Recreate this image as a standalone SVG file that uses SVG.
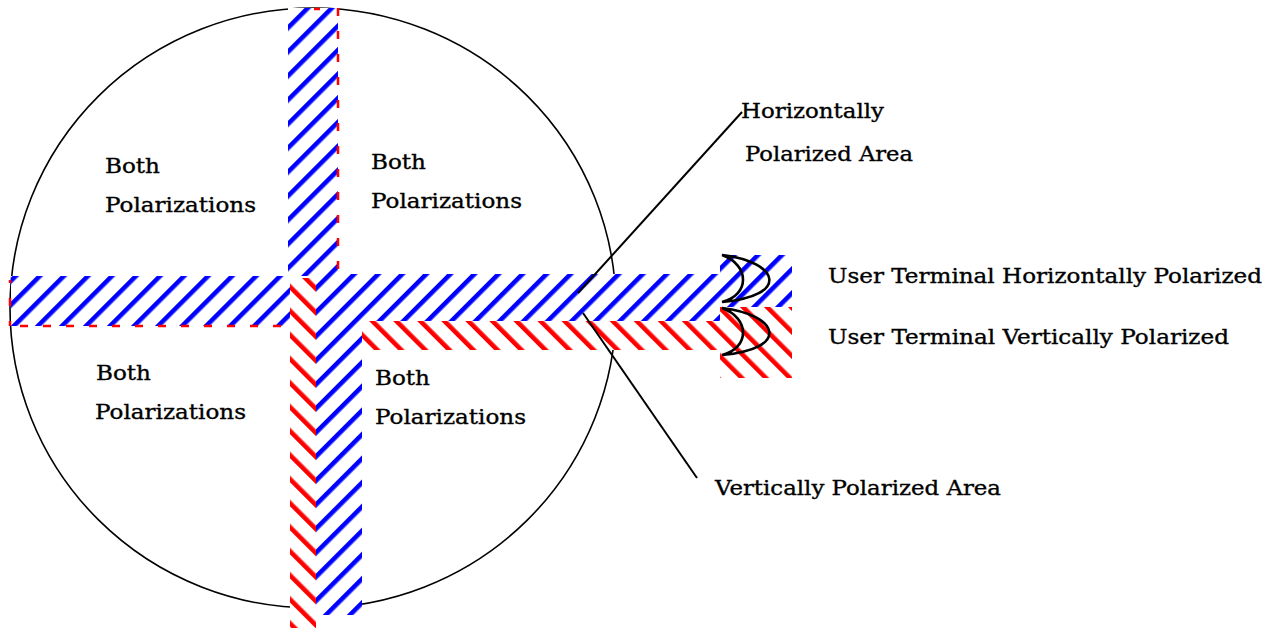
<svg xmlns="http://www.w3.org/2000/svg" width="1272" height="628" viewBox="0 0 1272 628">
<style>
text{font-family:"DejaVu Serif","Liberation Serif",serif;font-size:20.5px;fill:#000;stroke:#000;stroke-width:0.35}
.bl{fill:url(#hb);stroke:none}
.rd{fill:url(#hr);stroke:none}
.wh{fill:#fff;stroke:none}
.dash{stroke:#f00;stroke-width:2.5;stroke-dasharray:8 15;fill:none}
.lead{stroke:#000;stroke-width:2;fill:none}
.cres{stroke:#000;stroke-width:2.6;fill:none}
</style>
<defs>
<pattern id="hb" patternUnits="userSpaceOnUse" width="17" height="17" patternTransform="rotate(45)">
<rect x="0" y="0" width="4.6" height="17" fill="#00f"/>
</pattern>
<pattern id="hr" patternUnits="userSpaceOnUse" width="17" height="17" patternTransform="rotate(-45)">
<rect x="0" y="0" width="4.6" height="17" fill="#f00"/>
</pattern>
</defs>
<g id="coverage-circle">
<ellipse cx="313" cy="308" rx="303" ry="300" fill="#fff" stroke="#000" stroke-width="1.6"/>
</g>
<g id="upper-vertical-band">
<rect class="wh" x="288" y="8" width="50" height="268"/>
<rect class="bl" x="288" y="8" width="50" height="268"/>
<line class="dash" x1="338" y1="8" x2="338" y2="276"/>
<line x1="314" y1="9" x2="320" y2="9" stroke="#f00" stroke-width="2.5"/>
</g>
<g id="left-horizontal-band">
<rect class="wh" x="11" y="276" width="279" height="50"/>
<rect class="bl" x="11" y="276" width="279" height="50"/>
<line class="dash" x1="10" y1="326" x2="290" y2="326" stroke-dashoffset="-10"/>
<line class="dash" x1="10" y1="280" x2="10" y2="326" stroke-dashoffset="-18"/>
</g>
<g id="right-horizontal-band">
<rect class="wh" x="316" y="274" width="404" height="47"/>
<rect class="bl" x="316" y="274" width="404" height="47"/>
<rect class="wh" x="362" y="321" width="358" height="29"/>
<rect class="rd" x="362" y="321" width="358" height="29"/>
</g>
<g id="lower-vertical-band">
<rect class="wh" x="290" y="278" width="26" height="350"/>
<rect class="rd" x="290" y="278" width="26" height="350"/>
<rect class="wh" x="316" y="321" width="46" height="294"/>
<rect class="bl" x="316" y="321" width="46" height="294"/>
</g>
<g id="user-terminal">
<rect class="wh" x="720" y="255" width="72" height="52"/>
<rect class="bl" x="720" y="255" width="72" height="52"/>
<rect class="wh" x="720" y="307" width="72" height="71"/>
<rect class="rd" x="720" y="307" width="72" height="71"/>
<path class="cres" d="M722,255 C780,262 790,296 722,302 C750,295 750,265 722,255 Z"/>
<path class="cres" d="M722,308 C780,315 790,349 722,355 C750,348 750,318 722,308 Z"/>
</g>
<g id="connectors">
<line class="lead" x1="742" y1="112" x2="578" y2="293"/>
<line class="lead" x1="583" y1="313" x2="697" y2="478"/>
</g>
<g id="label-both-1">
<text x="105" y="173" textLength="55" lengthAdjust="spacingAndGlyphs">Both</text>
<text x="105" y="212" textLength="151" lengthAdjust="spacingAndGlyphs">Polarizations</text>
</g>
<g id="label-both-2">
<text x="371" y="169" textLength="55" lengthAdjust="spacingAndGlyphs">Both</text>
<text x="371" y="208" textLength="151" lengthAdjust="spacingAndGlyphs">Polarizations</text>
</g>
<g id="label-both-3">
<text x="96" y="380" textLength="55" lengthAdjust="spacingAndGlyphs">Both</text>
<text x="95" y="419" textLength="151" lengthAdjust="spacingAndGlyphs">Polarizations</text>
</g>
<g id="label-both-4">
<text x="375" y="385" textLength="55" lengthAdjust="spacingAndGlyphs">Both</text>
<text x="375" y="424" textLength="151" lengthAdjust="spacingAndGlyphs">Polarizations</text>
</g>
<g id="label-horizontal-area">
<text x="741" y="118" textLength="143" lengthAdjust="spacingAndGlyphs">Horizontally</text>
<text x="745" y="161" textLength="168" lengthAdjust="spacingAndGlyphs">Polarized Area</text>
</g>
<g id="label-ut-h">
<text x="828" y="283" textLength="434" lengthAdjust="spacingAndGlyphs">User Terminal Horizontally Polarized</text>
</g>
<g id="label-ut-v">
<text x="828" y="344" textLength="401" lengthAdjust="spacingAndGlyphs">User Terminal Vertically Polarized</text>
</g>
<g id="label-vertical-area">
<text x="715" y="495" textLength="286" lengthAdjust="spacingAndGlyphs">Vertically Polarized Area</text>
</g>
</svg>
